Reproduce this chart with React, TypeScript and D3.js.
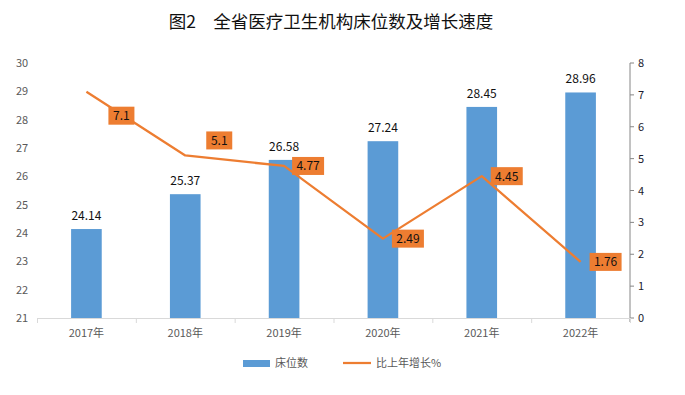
import { useEffect, useRef } from "react";
import * as d3 from "d3";

const years = ["2017年", "2018年", "2019年", "2020年", "2021年", "2022年"];
const beds = [24.14, 25.37, 26.58, 27.24, 28.45, 28.96];
const growth = [7.1, 5.1, 4.77, 2.49, 4.45, 1.76];
const leftTicks = [21, 22, 23, 24, 25, 26, 27, 28, 29, 30];
const rightTicks = [0, 1, 2, 3, 4, 5, 6, 7, 8];
// label nudges (px) for the growth callouts, as placed in the original
const growthLabelDx = [22, 21, 8, 9, 9, 9];
const growthLabelDy = [24, -15, 0, 0, 0, 0];

const W = 685;
const H = 395;
const FONT = "'Noto Sans CJK SC', 'Microsoft YaHei', sans-serif";

export default function App() {
  const svgRef = useRef<SVGSVGElement>(null);

  useEffect(() => {
    if (!svgRef.current) return;
    const svg = d3.select(svgRef.current);
    svg.selectAll("*").remove();

    const left = 37;
    const right = 630;
    const top = 63;
    const bottom = 318;

    const x = d3.scaleBand<string>().domain(years).range([left, right]).paddingInner(0.69).paddingOuter(0.345);
    const step = (right - left) / years.length;
    const xc = (d: string) => (x(d) ?? 0) + x.bandwidth() / 2;
    const yL = d3.scaleLinear().domain([21, 30]).range([bottom, top]);
    const yR = d3.scaleLinear().domain([0, 8]).range([bottom, top]);

    // title
    svg
      .append("text")
      .attr("x", 331)
      .attr("y", 28)
      .attr("text-anchor", "middle")
      .style("font-family", FONT)
      .style("font-size", "17.5px")
      .style("fill", "#111")
      .text("图2　全省医疗卫生机构床位数及增长速度");

    // left tick labels
    svg
      .append("g")
      .selectAll("text")
      .data(leftTicks)
      .join("text")
      .attr("x", 22)
      .attr("y", (d) => yL(d) + 4)
      .attr("text-anchor", "middle")
      .style("font-family", FONT)
      .style("font-size", "11px")
      .style("fill", "#595959")
      .text((d) => d);

    // right axis
    const gR = svg.append("g").attr("transform", `translate(${right},0)`);
    gR.append("line")
      .attr("y1", top)
      .attr("y2", bottom + 4)
      .attr("stroke", "#868686");
    gR.selectAll(".tk")
      .data(rightTicks)
      .join("line")
      .attr("x1", 0)
      .attr("x2", 4)
      .attr("y1", (d) => yR(d))
      .attr("y2", (d) => yR(d))
      .attr("stroke", "#868686");
    gR.selectAll("text")
      .data(rightTicks)
      .join("text")
      .attr("x", 8)
      .attr("y", (d) => yR(d) + 4)
      .style("font-family", FONT)
      .style("font-size", "11px")
      .style("fill", "#1a1a2e")
      .text((d) => d);

    // x axis line and ticks
    svg
      .append("line")
      .attr("x1", left)
      .attr("x2", right)
      .attr("y1", bottom + 0.5)
      .attr("y2", bottom + 0.5)
      .attr("stroke", "#d9d9d9");
    svg
      .append("g")
      .selectAll("line")
      .data(d3.range(years.length + 1))
      .join("line")
      .attr("x1", (i) => left + i * step + 0.5)
      .attr("x2", (i) => left + i * step + 0.5)
      .attr("y1", bottom)
      .attr("y2", bottom + 5)
      .attr("stroke", "#d9d9d9");
    svg
      .append("g")
      .selectAll("text")
      .data(years)
      .join("text")
      .attr("x", (d) => xc(d))
      .attr("y", 337)
      .attr("text-anchor", "middle")
      .style("font-family", FONT)
      .style("font-size", "11px")
      .style("fill", "#595959")
      .text((d) => d);

    // bars
    svg
      .append("g")
      .selectAll("rect")
      .data(beds)
      .join("rect")
      .attr("x", (_, i) => x(years[i]) ?? 0)
      .attr("y", (d) => yL(d))
      .attr("width", x.bandwidth())
      .attr("height", (d) => bottom - yL(d))
      .attr("fill", "#5B9BD5");

    svg
      .append("g")
      .selectAll("text")
      .data(beds)
      .join("text")
      .attr("x", (_, i) => xc(years[i]))
      .attr("y", (d) => yL(d) - 9)
      .attr("text-anchor", "middle")
      .style("font-family", FONT)
      .style("font-size", "12px")
      .style("fill", "#111")
      .text((d) => d.toFixed(2));

    // growth line
    const line = d3
      .line<number>()
      .x((_, i) => xc(years[i]))
      .y((d) => yR(d));
    svg
      .append("path")
      .datum(growth)
      .attr("d", line)
      .attr("fill", "none")
      .attr("stroke", "#ED7D31")
      .attr("stroke-width", 2.25)
      .attr("stroke-linejoin", "round");

    // growth labels
    const lg = svg
      .append("g")
      .selectAll("g")
      .data(growth)
      .join("g")
      .attr(
        "transform",
        (d, i) => `translate(${xc(years[i]) + growthLabelDx[i]},${yR(d) + growthLabelDy[i]})`
      );
    lg.append("rect")
      .attr("x", 0)
      .attr("y", -9)
      .attr("width", (d) => (String(d).length > 3 ? 32 : 26))
      .attr("height", 18)
      .attr("fill", "#ED7D31");
    lg.append("text")
      .attr("x", (d) => (String(d).length > 3 ? 16 : 13))
      .attr("y", 4.5)
      .attr("text-anchor", "middle")
      .style("font-family", FONT)
      .style("font-size", "12px")
      .style("fill", "#111")
      .text((d) => d);

    // legend
    const leg = svg.append("g").attr("transform", "translate(0,363)");
    leg.append("rect").attr("x", 243).attr("y", -3).attr("width", 27).attr("height", 7).attr("fill", "#5B9BD5");
    leg.append("text")
      .attr("x", 275)
      .attr("y", 4)
      .style("font-family", FONT)
      .style("font-size", "11px")
      .style("fill", "#595959")
      .text("床位数");
    leg.append("line")
      .attr("x1", 343)
      .attr("x2", 371)
      .attr("y1", 0)
      .attr("y2", 0)
      .attr("stroke", "#ED7D31")
      .attr("stroke-width", 2.25);
    leg.append("text")
      .attr("x", 376)
      .attr("y", 4)
      .style("font-family", FONT)
      .style("font-size", "11px")
      .style("fill", "#595959")
      .text("比上年增长%");
  }, []);

  return (
    <svg
      ref={svgRef}
      width={W}
      height={H}
      style={{ position: "absolute", left: 0, top: 0, background: "#fff" }}
    />
  );
}
